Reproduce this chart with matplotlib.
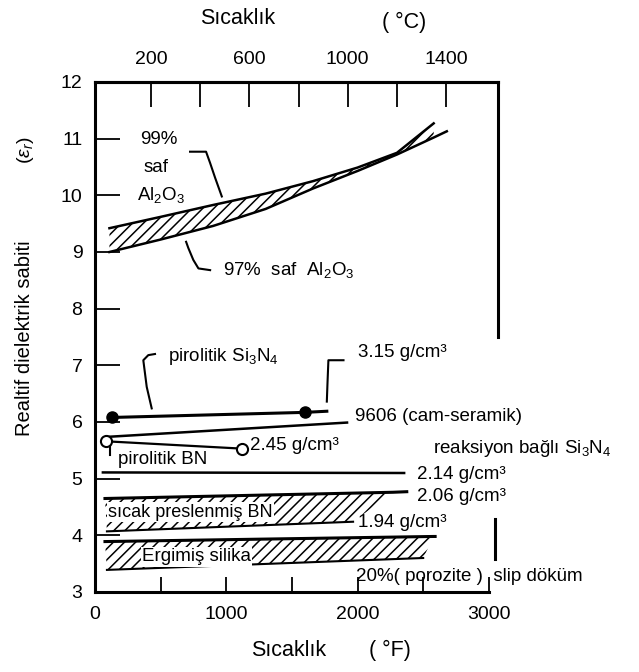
import numpy as np
import matplotlib.pyplot as plt

plt.rcParams['font.family'] = ['Liberation Sans', 'DejaVu Sans']
plt.rcParams['mathtext.fontset'] = 'custom'
plt.rcParams['mathtext.rm'] = 'Liberation Sans'
plt.rcParams['mathtext.it'] = 'Liberation Sans:italic'
plt.rcParams['hatch.linewidth'] = 1.1

# --- data (x in degF, y = relative dielectric constant) ---
al99_f = [110, 500, 900, 1300, 1660, 2000, 2300, 2580]
al99_y = [9.42, 9.62, 9.83, 10.03, 10.25, 10.49, 10.75, 11.27]
al97_f = [110, 500, 900, 1300, 1660, 2000, 2300, 2580, 2680]
al97_y = [9.00, 9.22, 9.46, 9.76, 10.12, 10.43, 10.72, 11.02, 11.13]

si3n4_f = [127, 1600, 1766]
si3n4_y = [6.08, 6.17, 6.19]
glass_f = [110, 1920]
glass_y = [5.74, 5.99]
pbn_f = [80, 1120]
pbn_y = [5.66, 5.53]
rbsn_f = [60, 2355]
rbsn_y = [5.11, 5.10]

hpbn_top_f = [76, 2270, 2375]
hpbn_top_y = [4.65, 4.76, 4.77]
hpbn_bot_f = [91, 1966]
hpbn_bot_y = [4.07, 4.24]

silica_top_f = [76, 2580, 2591]
silica_top_y = [3.89, 3.98, 3.98]
silica_bot_f = [91, 2500]
silica_bot_y = [3.39, 3.60]

# leader lines
lead99_f = [724, 846, 877, 915, 966]
lead99_y = [10.77, 10.77, 10.57, 10.31, 9.98]
lead97_f = [694, 711, 749, 788, 877]
lead97_y = [9.18, 9.07, 8.86, 8.71, 8.68]
leadsi_f = [432, 394, 368, 406, 457]
leadsi_y = [6.24, 6.62, 7.09, 7.18, 7.20]
lead315_f = [1766, 1771, 1778, 1893]
lead315_y = [6.36, 6.68, 7.09, 7.09]
leadbn_f = [115, 115]
leadbn_y = [5.58, 5.42]
leadslip_f = [3050, 3050]
leadslip_y = [4.29, 3.58]

# top axis (degC) as drawn in the original figure
c_ticks = [200, 400, 600, 800, 1000, 1200, 1400]
c_labels = ['200', '', '600', '', '1000', '', '1400']


def f_to_c(f):
    return 200 + (np.asarray(f) - 427) / 1.873


def c_to_f(c):
    return 427 + (np.asarray(c) - 200) * 1.873


fig = plt.figure(figsize=(6.39, 6.72), dpi=100)
ax = fig.add_axes([95 / 639, 80 / 672, 403 / 639, 510 / 672])

lw = 1.8
# Al2O3 band
ax.fill_between(al99_f, al97_y[:-1], al99_y, facecolor='white', edgecolor='black',
                hatch='///', linewidth=0)
ax.plot(al99_f, al99_y, color='black', lw=lw)
ax.plot(al97_f, al97_y, color='black', lw=lw)

# pyrolytic Si3N4
ax.plot(si3n4_f, si3n4_y, color='black', lw=2.2, marker='o', markersize=8,
        markevery=[0, 1])
# 9606 glass ceramic
ax.plot(glass_f, glass_y, color='black', lw=lw)
# pyrolytic BN
ax.plot(pbn_f, pbn_y, color='black', lw=1.6, marker='o', markersize=8,
        markerfacecolor='white', markeredgewidth=1.5)
# reaction bonded Si3N4
ax.plot(rbsn_f, rbsn_y, color='black', lw=lw)

# hot pressed BN
hp_x = hpbn_top_f[:2] + hpbn_bot_f[::-1]
hp_y = hpbn_top_y[:2] + hpbn_bot_y[::-1]
ax.fill(hp_x, hp_y, facecolor='white', edgecolor='black', hatch='///', linewidth=0)
ax.plot(hpbn_top_f, hpbn_top_y, color='black', lw=2.2)
ax.plot(hpbn_bot_f, hpbn_bot_y, color='black', lw=1.5)

# fused silica
si_x = silica_top_f[:2] + silica_bot_f[::-1]
si_y = silica_top_y[:2] + silica_bot_y[::-1]
ax.fill(si_x, si_y, facecolor='white', edgecolor='black', hatch='///', linewidth=0)
ax.plot(silica_top_f, silica_top_y, color='black', lw=2.2)
ax.plot(silica_bot_f, silica_bot_y, color='black', lw=1.5)

for lf, ly in [(lead99_f, lead99_y), (lead97_f, lead97_y), (leadsi_f, leadsi_y),
               (lead315_f, lead315_y), (leadbn_f, leadbn_y)]:
    ax.plot(lf, ly, color='black', lw=1.5)
ax.plot(leadslip_f, leadslip_y, color='black', lw=2.2, clip_on=False)

fs = 13.5
ax.text(340, 10.98, '99%', fontsize=fs, va='center')
ax.text(370, 10.50, 'saf', fontsize=fs, va='center')
ax.text(320, 10.00, 'Al$_2$O$_3$', fontsize=fs, va='center')
ax.text(976, 8.68, '97%  saf  Al$_2$O$_3$', fontsize=fs, va='center')
ax.text(556, 7.15, 'pirolitik Si$_3$N$_4$', fontsize=fs, va='center')
ax.text(2005, 7.22, '3.15 g/cm³', fontsize=fs, va='center')
ax.text(1982, 6.10, '9606 (cam-seramik)', fontsize=fs, va='center')
ax.text(1181, 5.58, '2.45 g/cm³', fontsize=fs, va='center')
ax.text(175, 5.33, 'pirolitik BN', fontsize=fs, va='center')
ax.text(2576, 5.54, 'reaksiyon bağlı Si$_3$N$_4$', fontsize=13.5, va='center')
ax.text(2450, 5.07, '2.14 g/cm³', fontsize=fs, va='center')
ax.text(2450, 4.69, '2.06 g/cm³', fontsize=fs, va='center')
ax.text(2005, 4.22, '1.94 g/cm³', fontsize=fs, va='center',
        bbox=dict(facecolor='white', edgecolor='none', pad=0.5))
ax.text(99, 4.41, 'sıcak preslenmiş BN', fontsize=13, va='center',
        bbox=dict(facecolor='white', edgecolor='none', pad=1))
ax.text(358, 3.62, 'Ergimiş silika', fontsize=fs, va='center',
        bbox=dict(facecolor='white', edgecolor='none', pad=1))
ax.text(1989, 3.27, '20%( porozite )  slip döküm', fontsize=13.5, va='center')

ax.set_xlim(0, 3070)
ax.set_ylim(3, 12)
ax.spines['bottom'].set_bounds(0, 3000)
ax.spines['right'].set_bounds(7.5, 12)
for s in ax.spines.values():
    s.set_linewidth(2.2)

ax.set_xticks([0, 1000, 2000, 3000])
ax.set_xticks([500, 1500, 2500], minor=True)
ax.set_yticks(range(3, 13))
ax.tick_params(axis='x', which='both', direction='in', length=11, width=1.3,
               labelsize=14, pad=10)
ax.tick_params(axis='y', direction='in', length=18, width=1.3, labelsize=14, pad=9)

secax = ax.secondary_xaxis('top', functions=(f_to_c, c_to_f))
secax.set_xticks(c_ticks)
secax.set_xticklabels(c_labels)
secax.tick_params(direction='in', length=18, width=1.3, labelsize=14, pad=10)
secax.spines['top'].set_linewidth(2.2)

fig.text(238 / 639, 1 - 18 / 672, 'Sıcaklık', fontsize=15.5, ha='center', va='center')
fig.text(404 / 639, 1 - 22 / 672, '( °C)', fontsize=15.5, ha='center', va='center')
fig.text(289 / 639, 1 - 650 / 672, 'Sıcaklık', fontsize=15.5, ha='center', va='center')
fig.text(390 / 639, 1 - 650 / 672, '( °F)', fontsize=15.5, ha='center', va='center')
fig.text(25 / 639, 1 - 338 / 672, 'Realtif dielektrik sabiti', fontsize=14.5,
         rotation=90, ha='center', va='center')
fig.text(25 / 639, 1 - 150 / 672, r'($\varepsilon_r$)', fontsize=14,
         rotation=90, ha='center', va='center')

fig.savefig('out.png', dpi=100)
